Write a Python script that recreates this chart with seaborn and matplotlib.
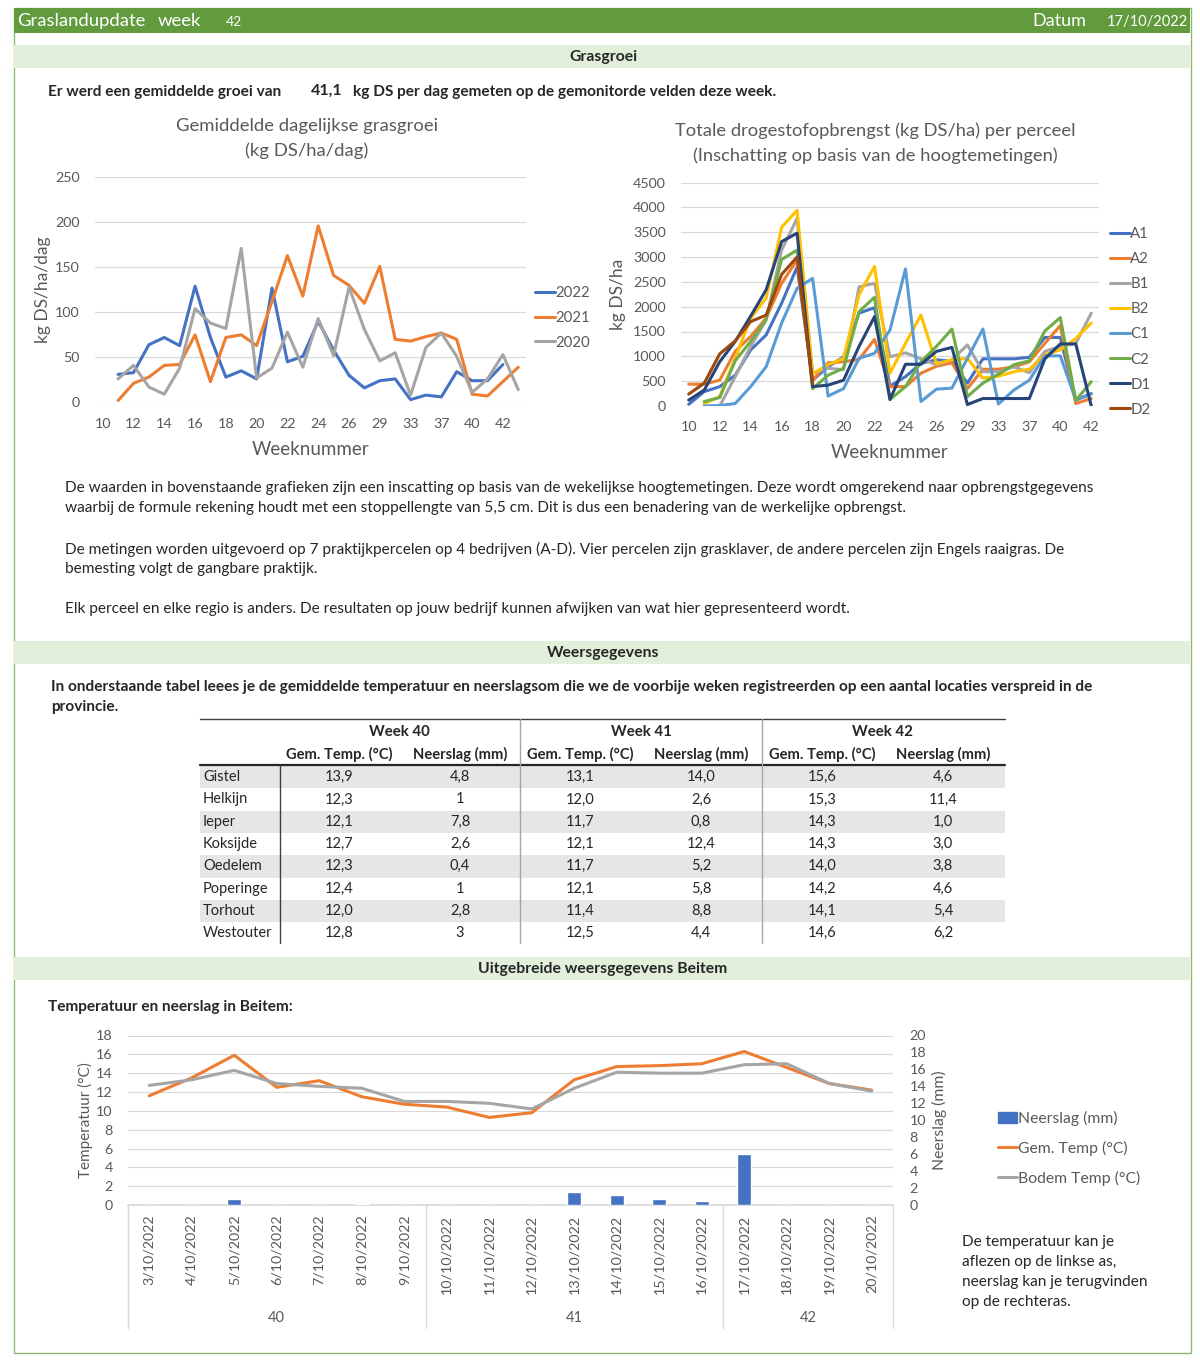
import numpy as np
import pandas as pd
import matplotlib
matplotlib.use('Agg')
import matplotlib.pyplot as plt
import seaborn as sns
from matplotlib.patches import Rectangle
from matplotlib.lines import Line2D

sns.set_theme(style='white')
plt.rcParams['font.family'] = ['Lato', 'DejaVu Sans']

nan = np.nan

# ---- data: daily grass growth (kg DS/ha/dag) ----
weeks_growth = [10, 11, 12, 13, 14, 15, 16, 17, 18, 19, 20, 21, 22, 23, 24, 25, 26,
                27, 29, 31, 33, 35, 37, 38, 40, 41, 42, 43]
growth_2022 = [nan, 31, 33, 64, 72, 63, 129, 72, 28, 35, 26, 127, 45, 51, 90, 58, 30,
               16, 24, 26, 3, 8, 6, 34, 24, 24, 42, nan]
growth_2021 = [nan, 2, 21, 28, 41, 42, 75, 23, 72, 75, 63, 112, 163, 118, 196, 141, 130,
               110, 151, 70, 68, 73, 77, 70, 9, 7, 23, 39]
growth_2020 = [nan, 26, 41, 17, 9, 38, 104, 88, 82, 171, 27, 38, 78, 39, 93, 52, 128,
               81, 46, 55, 8, 61, 77, 51, 11, 26, 53, 14]

# ---- data: total dry matter yield per field (kg DS/ha) ----
weeks_yield = weeks_growth[:-1]
yield_A1 = [35, 290, 390, 620, 1130, 1430, 2070, 2800, 520, 790, 990, 1870, 1980, 400, 590,
            860, 930, 900, 460, 950, 950, 950, 980, 1380, 1380, 120, 250]
yield_A2 = [440, 440, 520, 1100, 1400, 1770, 2470, 2940, 520, 870, 890, 940, 1340, 390, 390,
            660, 800, 870, 350, 740, 740, 790, 890, 1260, 1620, 50, 150]
yield_B1 = [nan, nan, 0, 590, 1200, 1730, 3140, 3780, 660, 760, 730, 2400, 2470, 990, 1070,
            950, 830, 930, 1230, 690, 690, 790, 670, 1100, 1200, 1260, 1870]
yield_B2 = [nan, 50, 190, 960, 1770, 2170, 3600, 3940, 650, 830, 960, 2240, 2810, 660, 1260,
            1830, 850, 930, 960, 560, 600, 690, 740, 1030, 1130, 1360, 1670]
yield_C1 = [nan, 0, 10, 50, 390, 790, 1670, 2370, 2570, 200, 350, 960, 1060, 1530, 2760,
            90, 340, 360, 960, 1550, 40, 320, 520, 1010, 1010, 120, 240]
yield_C2 = [nan, 90, 170, 910, 1300, 1750, 2950, 3140, 350, 620, 760, 1900, 2190, 130, 390,
            890, 1200, 1550, 190, 460, 640, 830, 910, 1510, 1780, 110, 490]
yield_D1 = [120, 320, 890, 1300, 1810, 2340, 3310, 3480, 390, 420, 520, 1200, 1800, 130, 840,
            840, 1100, 1180, 30, 150, 150, 150, 150, 950, 1250, 1250, 0]
yield_D2 = [240, 460, 1050, 1310, 1700, 1830, 2650, 3000, 450] + [nan] * 18

# ---- data: weather table ----
stations = ['Gistel', 'Helkijn', 'Ieper', 'Koksijde', 'Oedelem', 'Poperinge', 'Torhout', 'Westouter']
w40_temp = ['13,9', '12,3', '12,1', '12,7', '12,3', '12,4', '12,0', '12,8']
w40_rain = ['4,8', '1', '7,8', '2,6', '0,4', '1', '2,8', '3']
w41_temp = ['13,1', '12,0', '11,7', '12,1', '11,7', '12,1', '11,4', '12,5']
w41_rain = ['14,0', '2,6', '0,8', '12,4', '5,2', '5,8', '8,8', '4,4']
w42_temp = ['15,6', '15,3', '14,3', '14,3', '14,0', '14,2', '14,1', '14,6']
w42_rain = ['4,6', '11,4', '1,0', '3,0', '3,8', '4,6', '5,4', '6,2']

# ---- data: Beitem daily ----
dates = ['3/10/2022', '4/10/2022', '5/10/2022', '6/10/2022', '7/10/2022', '8/10/2022',
         '9/10/2022', '10/10/2022', '11/10/2022', '12/10/2022', '13/10/2022', '14/10/2022',
         '15/10/2022', '16/10/2022', '17/10/2022', '18/10/2022', '19/10/2022', '20/10/2022']
date_weeks = [40] * 7 + [41] * 7 + [42] * 4
rain_beitem = [0, 0, 0.7, 0, 0, 0.1, 0, 0, 0, 0, 1.5, 1.2, 0.7, 0.5, 6.0, 0, 0, 0]
temp_beitem = [11.6, 13.5, 15.9, 12.5, 13.2, 11.5, 10.7, 10.4, 9.3, 9.8, 13.3, 14.7,
               14.8, 15.0, 16.3, 14.6, 12.9, 12.2]
soil_beitem = [12.7, 13.3, 14.3, 12.9, 12.6, 12.4, 11.0, 11.0, 10.8, 10.2, 12.4, 14.1,
               14.0, 14.0, 14.9, 15.0, 12.9, 12.1]

# ---- style ----
GRAY_TXT = '#595959'
GRID = '#D9D9D9'
HEAD_GREEN = '#629B3E'
BAND_GREEN = '#E2EFDA'
excel = {'A1': '#4472C4', 'A2': '#ED7D31', 'B1': '#A5A5A5', 'B2': '#FFC000',
         'C1': '#5B9BD5', 'C2': '#70AD47', 'D1': '#264478', 'D2': '#9E480E'}
year_cols = {'2022': '#4472C4', '2021': '#ED7D31', '2020': '#A5A5A5'}
BODY = 11.1   # body text size

W, H = 1200, 1360
fig = plt.figure(figsize=(12, 13.6), dpi=100)


def px_axes(x0, y0, x1, y1):
    return fig.add_axes([x0 / W, 1 - y1 / H, (x1 - x0) / W, (y1 - y0) / H])


def excel_style(ax):
    for s in ax.spines.values():
        s.set_visible(False)
    ax.set_facecolor('none')
    ax.grid(axis='y', color=GRID, lw=0.9)
    ax.set_axisbelow(True)


# background / layout axes in pixel coordinates
bg = fig.add_axes([0, 0, 1, 1], zorder=-5)
bg.set_xlim(0, W)
bg.set_ylim(H, 0)
bg.axis('off')

# outer frame and header
bg.add_patch(Rectangle((13.5, 7.5), 1177, 1345, fill=False, ec='#8DB870', lw=1))
bg.add_patch(Rectangle((14, 8), 1176, 25, color=HEAD_GREEN, lw=0))
bg.text(17, 21, 'Graslandupdate', color='white', fontsize=13.3, va='center')
bg.text(158, 21, 'week', color='white', fontsize=13.3, va='center')
bg.text(226, 22, '42', color='white', fontsize=10, va='center')
bg.text(1032, 21, 'Datum', color='white', fontsize=13, va='center')
bg.text(1107, 22, '17/10/2022', color='white', fontsize=10.5, va='center')

for (y0, y1, label) in [(45, 68, 'Grasgroei'), (641, 664, 'Weersgegevens'),
                        (957, 980, 'Uitgebreide weersgegevens Beitem')]:
    bg.add_patch(Rectangle((14, y0), 1176, y1 - y0, color=BAND_GREEN, lw=0))
    bg.text(603, (y0 + y1) / 2, label, fontsize=11.3, weight='bold', ha='center', va='center')

bg.text(48, 92, 'Er werd een gemiddelde groei van', fontsize=BODY, weight='bold', va='center')
bg.text(311, 91, '41,1', fontsize=11.5, weight='bold', va='center')
bg.text(353, 92, 'kg DS per dag gemeten op de gemonitorde velden deze week.',
        fontsize=BODY, weight='bold', va='center')

para = [(488, 'De waarden in bovenstaande grafieken zijn een inscatting op basis van de wekelijkse hoogtemetingen. '
              'Deze wordt omgerekend naar opbrengstgegevens'),
        (508, 'waarbij de formule rekening houdt met een stoppellengte van 5,5 cm. Dit is dus een benadering van de werkelijke opbrengst.'),
        (549, 'De metingen worden uitgevoerd op 7 praktijkpercelen op 4 bedrijven (A-D). Vier percelen zijn grasklaver, '
              'de andere percelen zijn Engels raaigras. De'),
        (569, 'bemesting volgt de gangbare praktijk.'),
        (609, 'Elk perceel en elke regio is anders. De resultaten op jouw bedrijf kunnen afwijken van wat hier gepresenteerd wordt.')]
for y, t in para:
    bg.text(65, y, t, fontsize=BODY, va='center')

bg.text(51, 687, 'In onderstaande tabel leees je de gemiddelde temperatuur en neerslagsom die we de voorbije weken '
                 'registreerden op een aantal locaties verspreid in de', fontsize=BODY, weight='bold', va='center')
bg.text(51, 707, 'provincie.', fontsize=BODY, weight='bold', va='center')
bg.text(48, 1007, 'Temperatuur en neerslag in Beitem:', fontsize=BODY, weight='bold', va='center')

# ---- chart 1: average daily growth ----
ax1 = px_axes(95, 177.3, 526, 402.3)
excel_style(ax1)
xg = np.arange(len(weeks_growth))
df_g = pd.DataFrame({'x': np.tile(xg, 3),
                     'groei': growth_2022 + growth_2021 + growth_2020,
                     'jaar': ['2022'] * len(xg) + ['2021'] * len(xg) + ['2020'] * len(xg)})
sns.lineplot(data=df_g, x='x', y='groei', hue='jaar', palette=year_cols, lw=2.2,
             legend=False, ax=ax1)
ax1.set_xlim(-0.5, len(xg) - 0.5)
ax1.set_ylim(0, 250)
ax1.set_yticks(range(0, 251, 50))
ax1.set_xticks(xg[::2], [str(w) for w in weeks_growth[::2]])
ax1.tick_params(length=0, labelsize=10.3, labelcolor=GRAY_TXT)
ax1.tick_params(axis='y', pad=11)
ax1.tick_params(axis='x', pad=11)
ax1.set_xlabel('Weeknummer', fontsize=13.5, color=GRAY_TXT, labelpad=8)
ax1.set_ylabel('kg DS/ha/dag', fontsize=12.5, color=GRAY_TXT)
ax1.yaxis.set_label_coords((51 - 95) / 431, 0.5)
bg.text(307, 126, 'Gemiddelde dagelijkse grasgroei', fontsize=13.3, color=GRAY_TXT, ha='center', va='center')
bg.text(307, 151, '(kg DS/ha/dag)', fontsize=13.3, color=GRAY_TXT, ha='center', va='center')
fig.legend([Line2D([], [], color=year_cols[k], lw=2.2) for k in year_cols], list(year_cols),
           loc='upper left', bbox_to_anchor=(535 / W, 1 - 286 / H), frameon=False, fontsize=10.8,
           handlelength=1.3, handletextpad=0.05, labelspacing=0.72, labelcolor=GRAY_TXT,
           borderpad=0, borderaxespad=0)

# ---- chart 2: total yield per field ----
ax2 = px_axes(681, 182.5, 1099, 406)
excel_style(ax2)
xy = np.arange(len(weeks_yield))
fields = {'A1': yield_A1, 'A2': yield_A2, 'B1': yield_B1, 'B2': yield_B2,
          'C1': yield_C1, 'C2': yield_C2, 'D1': yield_D1, 'D2': yield_D2}
df_y = pd.DataFrame({'x': np.tile(xy, len(fields)),
                     'opbrengst': sum(fields.values(), []),
                     'perceel': np.repeat(list(fields), len(xy))})
sns.lineplot(data=df_y, x='x', y='opbrengst', hue='perceel', palette=excel, lw=2.2,
             legend=False, ax=ax2)
ax2.set_xlim(-0.5, len(xy) - 0.5)
ax2.set_ylim(0, 4500)
ax2.set_yticks(range(0, 4501, 500))
ax2.set_xticks(xy[::2], [str(w) for w in weeks_yield[::2]])
ax2.tick_params(length=0, labelsize=10.3, labelcolor=GRAY_TXT)
ax2.tick_params(axis='y', pad=11)
ax2.tick_params(axis='x', pad=11)
ax2.set_xlabel('Weeknummer', fontsize=13.5, color=GRAY_TXT, labelpad=8)
ax2.set_ylabel('kg DS/ha', fontsize=12.5, color=GRAY_TXT)
ax2.yaxis.set_label_coords((626 - 681) / 418, 0.5)
bg.text(875, 131, 'Totale drogestofopbrengst (kg DS/ha) per perceel', fontsize=13.2, color=GRAY_TXT,
        ha='center', va='center')
bg.text(875, 156, '(Inschatting op basis van de hoogtemetingen)', fontsize=13.2, color=GRAY_TXT,
        ha='center', va='center')
fig.legend([Line2D([], [], color=excel[k], lw=2.2) for k in fields], list(fields),
           loc='upper left', bbox_to_anchor=(1110 / W, 1 - 227 / H), frameon=False, fontsize=10.8,
           handlelength=1.3, handletextpad=0.05, labelspacing=0.74, labelcolor=GRAY_TXT,
           borderpad=0, borderaxespad=0)

# ---- weather table ----
TL, TR = 200, 1005
row_top, row_h = 766, 22.3
for i in range(len(stations)):
    if i % 2 == 0:
        bg.add_patch(Rectangle((TL, row_top + i * row_h), TR - TL, row_h, color='#E7E6E6', lw=0))
bg.plot([TL, TR], [719, 719], color='#404040', lw=1)
bg.plot([TL, TR], [765, 765], color='#262626', lw=1.6)
bg.plot([280, 280], [765, 943], color='#404040', lw=1)
for xv in (520, 762):
    bg.plot([xv, xv], [719, 943], color='#A6A6A6', lw=1)
for cx, wk in [(399, 'Week 40'), (641, 'Week 41'), (882, 'Week 42')]:
    bg.text(cx, 732, wk, fontsize=10.8, weight='bold', ha='center', va='center')
cols = [(339, w40_temp), (460, w40_rain), (580, w41_temp), (701, w41_rain),
        (822, w42_temp), (943, w42_rain)]
for j, (cx, vals) in enumerate(cols):
    bg.text(cx, 754, 'Gem. Temp. (°C)' if j % 2 == 0 else 'Neerslag (mm)', fontsize=10.6,
            weight='bold', ha='center', va='center')
    for i, v in enumerate(vals):
        bg.text(cx, row_top + (i + 0.5) * row_h, v, fontsize=10.5, ha='center', va='center')
for i, st in enumerate(stations):
    bg.text(203, row_top + (i + 0.5) * row_h, st, fontsize=10.5, va='center')

# ---- chart 3: Beitem temperature and rain ----
ax3 = px_axes(128, 1035.5, 893, 1205)
excel_style(ax3)
xd = np.arange(len(dates))
sns.lineplot(x=xd, y=temp_beitem, color='#ED7D31', lw=2.2, ax=ax3)
sns.lineplot(x=xd, y=soil_beitem, color='#A5A5A5', lw=2.2, ax=ax3)
ax3r = ax3.twinx()
sns.barplot(x=dates, y=rain_beitem, order=dates, color='#4472C4', width=0.33,
            saturation=1, ax=ax3r)
for s in ax3r.spines.values():
    s.set_visible(False)
ax3.set_xlim(-0.5, len(dates) - 0.5)
ax3.set_ylim(0, 18)
ax3.set_yticks(range(0, 19, 2))
ax3r.set_ylim(0, 20)
ax3r.set_yticks(range(0, 21, 2))
ax3r.set_ylabel('')
ax3.set_xticks(xd, dates, rotation=90)
ax3.spines['bottom'].set_visible(True)
ax3.spines['bottom'].set_color(GRID)
ax3.tick_params(length=0, labelsize=10.3, labelcolor=GRAY_TXT)
ax3.tick_params(axis='y', pad=11)
ax3.tick_params(axis='x', pad=7)
ax3r.tick_params(length=0, labelsize=10.3, labelcolor=GRAY_TXT, pad=12)
ax3.set_ylabel('Temperatuur (°C)', fontsize=11, color=GRAY_TXT)
ax3.yaxis.set_label_coords((93 - 128) / 765, 0.5)
ax3r.set_ylabel('Neerslag (mm)', fontsize=11.3, color=GRAY_TXT, rotation=90)
ax3r.yaxis.set_label_coords((932 - 128) / 765, 0.5)

# two-level category axis: week groups
xt = ax3.get_xaxis_transform()
bounds = [-0.5]
for k in range(1, len(date_weeks)):
    if date_weeks[k] != date_weeks[k - 1]:
        bounds.append(k - 0.5)
bounds.append(len(date_weeks) - 0.5)
for b in bounds:
    ax3.plot([b, b], [0, -(1328 - 1205) / 169.5], transform=xt, color=GRID, lw=1, clip_on=False)
for a, b in zip(bounds[:-1], bounds[1:]):
    wk = date_weeks[int(a + 0.5)]
    ax3.text((a + b) / 2, -(1318 - 1205) / 169.5, str(wk), transform=xt, ha='center', va='center',
             fontsize=10.5, color=GRAY_TXT)

fig.legend([Rectangle((0, 0), 1, 1, color='#4472C4'),
            Line2D([], [], color='#ED7D31', lw=2.2), Line2D([], [], color='#A5A5A5', lw=2.2)],
           ['Neerslag (mm)', 'Gem. Temp (°C)', 'Bodem Temp (°C)'],
           loc='upper left', bbox_to_anchor=(998 / W, 1 - 1111 / H), frameon=False, fontsize=11.3,
           handlelength=1.2, handleheight=0.75, handletextpad=0.05, labelspacing=0.95,
           labelcolor=GRAY_TXT, borderpad=0, borderaxespad=0)

for k, t in enumerate(['De temperatuur kan je', 'aflezen op de linkse as,',
                       'neerslag kan je terugvinden', 'op de rechteras.']):
    bg.text(962, 1242 + 20 * k, t, fontsize=BODY, va='center')

fig.savefig('out.png', dpi=100)
